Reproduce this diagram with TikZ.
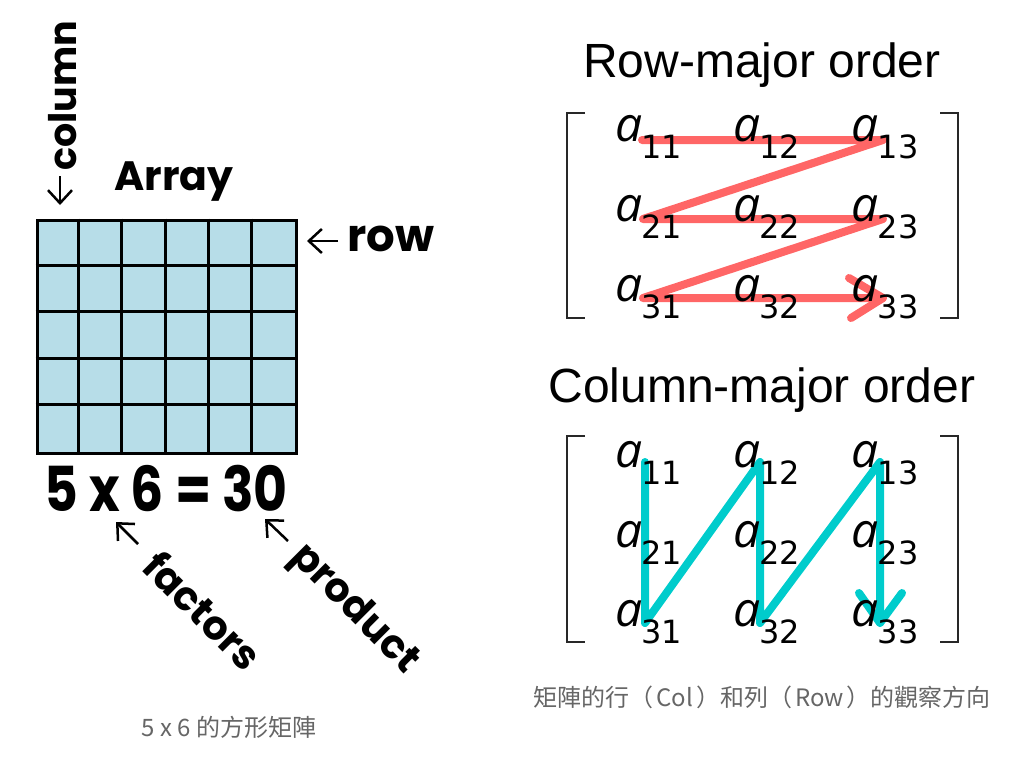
\documentclass[tikz,border=0pt]{standalone}
\usepackage{fontspec}
\usetikzlibrary{calc,arrows.meta}
\newfontfamily\pop{Poppins}
\newfontfamily\lib{Liberation Sans}
\newfontfamily\osans{Open Sans}
\newfontfamily\dvs{DejaVu Sans}
\newfontfamily\cjk{Noto Sans CJK TC}
\definecolor{cellblue}{RGB}{183,221,232}
\definecolor{zred}{RGB}{255,102,102}
\definecolor{zcyan}{RGB}{0,204,204}
\definecolor{capgray}{RGB}{102,102,102}
\definecolor{brk}{RGB}{40,40,40}
\tikzset{
  boldlbl/.style={inner sep=0pt, font=\pop\bfseries\fontsize{45}{45}\selectfont},
  thinarrow/.style={line width=2.5pt, -{Straight Barb[length=13pt,width=24pt,line width=2.5pt]}},
  title/.style={inner sep=0pt, font=\lib\fontsize{48}{48}\selectfont},
  aelem/.style={inner sep=0pt, font=\osans\itshape\fontsize{48}{48}\selectfont},
  subelem/.style={inner sep=0pt, font=\dvs\fontsize{32}{32}\selectfont},
  bracket/.style={draw=brk, line width=2pt},
  zig/.style={line width=8pt, line cap=round, line join=round},
  caption/.style={inner sep=0pt, text=capgray, font=\cjk\fontsize{24}{24}\selectfont},
}
\newcommand{\elem}[4]{%
  \node[aelem] (#1) at (#2,#3) {a};
  \node[subelem] (#1s) at ($(#1)+(33,18)$) {#4};
}
\begin{document}
\begin{tikzpicture}[x=1pt,y=-1pt]
\useasboundingbox (0,0) rectangle (1026,761);
% ---------- left: array ----------
\node[draw=black, line width=3pt, fill=cellblue, minimum width=259pt, minimum height=233pt, inner sep=0pt] (grid) at (166.5,336.5) {};
\foreach \i in {1,...,5} {
  \draw[line width=3pt] ($(grid.north west)+(\i*43.17,0)$) -- ($(grid.south west)+(\i*43.17,0)$);
}
\foreach \j in {1,...,4} {
  \draw[line width=3pt] ($(grid.north west)+(0,\j*46.6)$) -- ($(grid.north east)+(0,\j*46.6)$);
}
\node[boldlbl, rotate=90, font=\pop\bfseries\fontsize{38}{38}\selectfont] (column) at (63,96) {column};
\coordinate (colA) at (60,176);
\coordinate (colB) at (60,205);
\draw[thinarrow] (colA) -- (colB);
\node[boldlbl, font=\pop\bfseries\fontsize{41}{41}\selectfont] (array) at (174,182) {Array};
\node[boldlbl] (row) at (391,239) {row};
\coordinate (rowA) at (338,241);
\coordinate (rowB) at (307,241);
\draw[thinarrow] (rowA) -- (rowB);
\node[boldlbl, font=\pop\bfseries\fontsize{62}{62}\selectfont, xscale=0.84] (eq) at (166,489) {5 x 6 = 30};
\node[boldlbl, rotate=-45, font=\pop\bfseries\fontsize{40}{40}\selectfont] (factors) at (203,610) {factors};
\node[boldlbl, rotate=-45, font=\pop\bfseries\fontsize{40}{40}\selectfont] (product) at (354,610) {product};
\coordinate (fA) at (138,544);
\coordinate (fB) at (116,522);
\draw[thinarrow] (fA) -- (fB);
\coordinate (pA) at (288,541);
\coordinate (pB) at (265,519);
\draw[thinarrow] (pA) -- (pB);
\node[caption] (cap1) at (229,727) {5 x 6 的方形矩陣};
% ---------- right: row-major ----------
\node[title] (rmt) at (762,65) {Row-major order};
\draw[bracket] (585,113) -- (567,113) -- (567,318) -- (585,318);
\draw[bracket] (940,113) -- (958,113) -- (958,318) -- (940,318);
\coordinate (r1) at (642,140);
\coordinate (r2) at (883,140);
\coordinate (r3) at (643,219);
\coordinate (r4) at (883,219);
\coordinate (r5) at (643,298);
\coordinate (r6) at (883,298);
\coordinate (rh1) at (849,278);
\coordinate (rh2) at (851,318);
\draw[zig, zred] (r1) -- (r2) -- (r3) -- (r4) -- (r5) -- (r6);
\draw[zig, zred] (rh1) -- (r6) -- (rh2);
\elem{ra11}{629}{129}{11}
\elem{ra12}{747}{129}{12}
\elem{ra13}{865}{129}{13}
\elem{ra21}{629}{209}{21}
\elem{ra22}{747}{209}{22}
\elem{ra23}{865}{209}{23}
\elem{ra31}{629}{289}{31}
\elem{ra32}{747}{289}{32}
\elem{ra33}{865}{289}{33}
% ---------- right: column-major ----------
\node[title] (cmt) at (762,390) {Column-major order};
\draw[bracket] (585,436) -- (567,436) -- (567,642) -- (585,642);
\draw[bracket] (940,436) -- (958,436) -- (958,642) -- (940,642);
\coordinate (c1) at (645,462);
\coordinate (c2) at (645,623);
\coordinate (c3) at (760,462);
\coordinate (c4) at (760,623);
\coordinate (c5) at (880,462);
\coordinate (c6) at (880,623);
\coordinate (ch1) at (859,593);
\coordinate (ch2) at (902,593);
\draw[zig, zcyan] (c1) -- (c2) -- (c3) -- (c4) -- (c5) -- (c6);
\draw[zig, zcyan] (ch1) -- (c6) -- (ch2);
\elem{ca11}{629}{455}{11}
\elem{ca12}{747}{455}{12}
\elem{ca13}{865}{455}{13}
\elem{ca21}{629}{535}{21}
\elem{ca22}{747}{535}{22}
\elem{ca23}{865}{535}{23}
\elem{ca31}{629}{614}{31}
\elem{ca32}{747}{614}{32}
\elem{ca33}{865}{614}{33}
\node[caption] (cap2) at (762,697) {矩陣的行（\hspace{3pt}Col\hspace{3pt}）和列（\hspace{3pt}Row\hspace{3pt}）的觀察方向};
\end{tikzpicture}
\end{document}
